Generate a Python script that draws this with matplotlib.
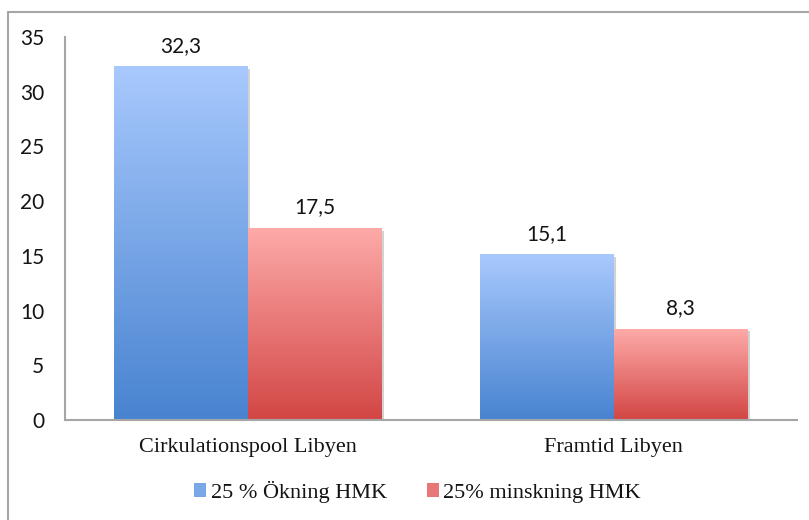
import matplotlib.pyplot as plt
import matplotlib.patheffects as pe
from matplotlib.colors import LinearSegmentedColormap
from matplotlib.patches import Patch, Rectangle
import numpy as np

categories = ['Cirkulationspool Libyen', 'Framtid Libyen']
series_names = ['25 % Ökning HMK', '25% minskning HMK']
okning = [32.3, 15.1]
minskning = [17.5, 8.3]
value_labels = [['32,3', '15,1'], ['17,5', '8,3']]

# (bottom colour, top colour) per series
grads = [('#4883d0', '#a8c9fd'), ('#d24644', '#fdaaa9')]

serif = 'Liberation Serif'
sans = 'Lato'
txt = '#141414'

fig = plt.figure(figsize=(8.09, 5.20), dpi=100)
ax = fig.add_axes([0.0803, 0.1923, 0.9047, 0.7365])

# outer frame of the chart area (runs off the right/bottom edge)
fig.patches.append(Rectangle((8 / 809, -0.2), 1.2, 0.2 + 1 - 12 / 520,
                             transform=fig.transFigure, fill=False,
                             edgecolor='#a6a6a6', linewidth=1.5))

x = np.arange(len(categories))
w = 0.366
grad = np.linspace(0, 1, 256).reshape(-1, 1)

for i, vals in enumerate([okning, minskning]):
    cmap = LinearSegmentedColormap.from_list('g%d' % i, list(grads[i]))
    offs = -w / 2 if i == 0 else w / 2
    bars = ax.bar(x + offs, vals, w, color='white', zorder=1)
    for b, v, lab in zip(bars, vals, value_labels[i]):
        b.set_path_effects([pe.SimplePatchShadow(offset=(1.5, -1.5), alpha=0.25), pe.Normal()])
        x0 = b.get_x()
        ax.imshow(grad, extent=[x0, x0 + w, 0, v], origin='lower', cmap=cmap,
                  aspect='auto', zorder=2)
        ax.text(x0 + w / 2, v + 1.0, lab, ha='center', va='bottom',
                fontsize=15, family=sans, color=txt)

ax.set_xlim(-0.5, 1.5)
ax.set_ylim(0, 35)
ax.set_yticks(range(0, 36, 5))
ax.set_xticks(x)
ax.set_xticklabels(categories, family=serif, fontsize=16, color=txt)
for t in ax.get_yticklabels():
    t.set_fontfamily(sans)
    t.set_fontsize(15)
    t.set_color(txt)
ax.tick_params(axis='y', length=0, pad=15)
ax.tick_params(axis='x', length=0, pad=13)

for s in ['top', 'right']:
    ax.spines[s].set_visible(False)
for s in ['left', 'bottom']:
    ax.spines[s].set_color('#a6a6a6')
    ax.spines[s].set_linewidth(1.5)
    ax.spines[s].set_zorder(3)

handles = [Patch(facecolor='#7aa8e6', edgecolor='none'),
           Patch(facecolor='#e87878', edgecolor='none')]
fig.legend(handles, series_names, loc='center', bbox_to_anchor=(0.516, 0.054),
           ncol=2, frameon=False, prop={'family': serif, 'size': 16},
           handlelength=0.55, handleheight=0.55, handletextpad=0.2,
           columnspacing=1.8, labelcolor=txt)

fig.savefig('out.png', dpi=100)
